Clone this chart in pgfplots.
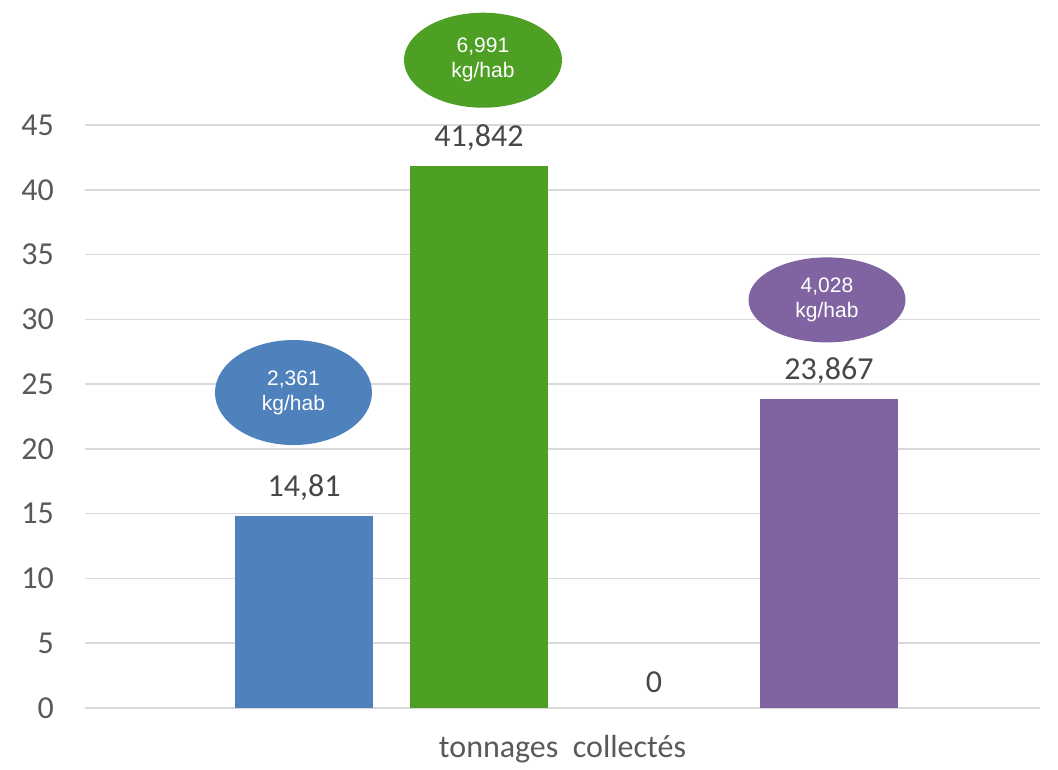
\documentclass[border=0pt]{standalone}
\usepackage{fontspec}
\setmainfont{Carlito}
\newfontfamily\arialf{Liberation Sans}
\usepackage{pgfplots}
\pgfplotsset{compat=1.18}
\usetikzlibrary{shapes.geometric}

\definecolor{cblue}{HTML}{4F81BD}
\definecolor{cgreen}{HTML}{4EA024}
\definecolor{cpurple}{HTML}{8064A2}
\definecolor{txtgray}{HTML}{595959}
\definecolor{gridgray}{HTML}{D9D9D9}

\begin{document}
\begin{tikzpicture}
\begin{axis}[
    scale only axis, width=477.5pt, height=291.5pt,
    xmin=-1, xmax=1, ymin=0, ymax=45,
    ytick={0,5,...,45}, xtick=\empty,
    ybar=18.5pt, bar width=69pt,
    separate axis lines,
    axis x line*=bottom, axis y line*=left,
    x axis line style={draw=gridgray, line width=0.8pt, -},
    y axis line style={draw=none},
    ymajorgrids, grid style={gridgray, line width=0.8pt},
    major tick length=0pt,
    /pgf/number format/assume math mode=true,
    yticklabel style={font=\fontsize{16}{18}\selectfont, text=txtgray, anchor=east, xshift=-12pt},
    xlabel={tonnages\ \ collectés},
    xlabel style={font=\fontsize{16}{18}\selectfont, text=txtgray, yshift=-10pt},
    nodes near coords,
    point meta=explicit symbolic,
    every node near coord/.append style={font=\fontsize{16}{18}\selectfont, text=txtgray!80!black, yshift=4pt},
    clip=false,
]
\addplot[fill=cblue, draw=none] coordinates {(0.0084,14.81) [14,81]};
\addplot[fill=cgreen, draw=none] coordinates {(0.0084,41.842) [41,842]};
\addplot[fill=white, draw=none] coordinates {(0.0084,0) [0]};
\addplot[fill=cpurple, draw=none] coordinates {(0.0084,23.867) [23,867]};

\node[ellipse, fill=cblue, minimum width=78.5pt, minimum height=52.5pt, inner sep=0pt,
      text=white, align=center, font=\arialf\fontsize{10.5}{12.5}\selectfont]
      at (axis cs:-0.5634,24.35) {2,361\\kg/hab};
\node[ellipse, fill=cgreen, minimum width=79pt, minimum height=47.5pt, inner sep=0pt,
      text=white, align=center, font=\arialf\fontsize{10.5}{12.5}\selectfont]
      at (axis cs:-0.1665,50.0) {6,991\\kg/hab};
\node[ellipse, fill=cpurple, minimum width=78.5pt, minimum height=42.5pt, inner sep=0pt,
      text=white, align=center, font=\arialf\fontsize{10.5}{12.5}\selectfont]
      at (axis cs:0.5539,31.5) {4,028\\kg/hab};

\path (rel axis cs:0,0) ++(-42.5pt,-30.5pt) coordinate (bbA);
\path (rel axis cs:1,1) ++(9pt,62.5pt) coordinate (bbB);
\path[use as bounding box] (bbA) rectangle (bbB);
\end{axis}
\end{tikzpicture}
\end{document}
